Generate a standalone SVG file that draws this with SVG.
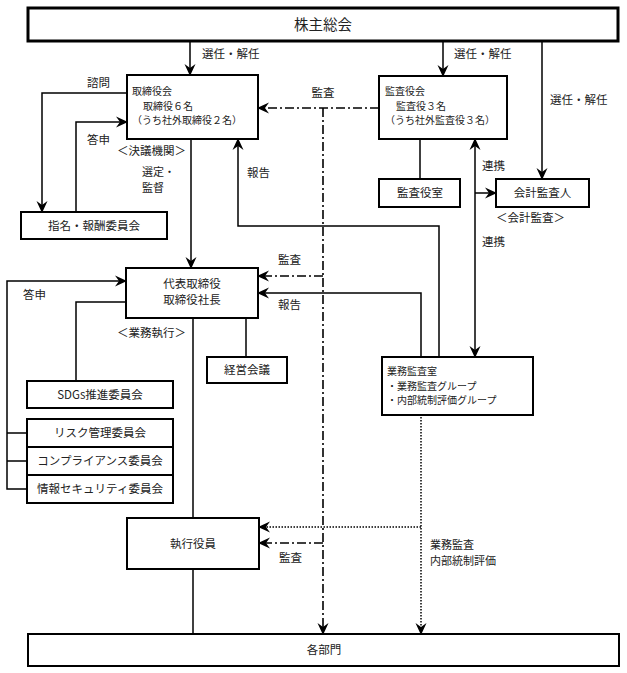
<svg xmlns="http://www.w3.org/2000/svg" width="627" height="673" viewBox="0 0 627 673">
<defs>
<style>
text{font-family:"Noto Sans CJK JP","Noto Sans",sans-serif;font-size:11.5px;fill:#222}
.b{fill:#fff;stroke:#000;stroke-width:2}
.bt{fill:#fff;stroke:#000;stroke-width:3}
.s{font-size:10px}
.m{font-size:11px}
.c{text-anchor:middle}
.l{fill:none;stroke:#000;stroke-width:1.5}
.dd{fill:none;stroke:#000;stroke-width:1.6;stroke-dasharray:9 3 2 3}
.dt{fill:none;stroke:#000;stroke-width:1.5;stroke-dasharray:1.5 1.5}
.a{marker-end:url(#ah)}
</style>
<marker id="ah" viewBox="0 0 12 12" refX="11" refY="6" markerWidth="12" markerHeight="12" markerUnits="userSpaceOnUse" orient="auto-start-reverse">
<path d="M0,0.5 L12,6 L0,11.5 L4,6 Z" fill="#000"/>
</marker>
</defs>
<rect width="627" height="673" fill="#fff"/>

<g id="connectors">
<path class="l a" d="M190,41 V75"/>
<path class="l a" d="M443,41 V76"/>
<path class="l a" d="M542,41 V179"/>
<path class="l a" d="M127,93 H42 V212"/>
<path class="l a" d="M76,212 V122 H127"/>
<path class="l a" d="M191,139 V268"/>
<path class="l a" d="M439,357 V226 H238 V139"/>
<path class="l" d="M420,139 V179"/>
<path class="l a" d="M475,139 V357" style="marker-start:url(#ah)"/>
<path class="l a" d="M475,193 H496"/>
<path class="dd a" d="M379,108 H258"/>
<path class="dd a" d="M323,108 V634"/>
<path class="dd a" d="M323,276 H258"/>
<path class="dd a" d="M323,543 H259"/>
<path class="l a" d="M421,357 V293 H258"/>
<path class="l" d="M193,318 V518"/>
<path class="l" d="M246,318 V357"/>
<path class="l" d="M126,302 H76 V381"/>
<path class="l a" d="M27,489 H7 V281 H126"/>
<path class="l" d="M7,433 H27 M7,461 H27"/>
<path class="l" d="M193,569 V634"/>
<path class="dt a" d="M421,414 V634"/>
<path class="dt a" d="M421,527 H259"/>
</g>

<g id="labels">
<text x="202" y="58">選任・解任</text>
<text x="454" y="58">選任・解任</text>
<text x="550" y="104">選任・解任</text>
<text x="87" y="87">諮問</text>
<text x="87" y="144">答申</text>
<text x="117" y="155">＜決議機関＞</text>
<text x="142" y="176" class="m">選定・</text>
<text x="142" y="192" class="m">監督</text>
<text x="247" y="177">報告</text>
<text x="323" y="97" class="c">監査</text>
<text x="482" y="170">連携</text>
<text x="482" y="246">連携</text>
<text x="496" y="222">＜会計監査＞</text>
<text x="278" y="264">監査</text>
<text x="278" y="309">報告</text>
<text x="23" y="299">答申</text>
<text x="117" y="337">＜業務執行＞</text>
<text x="279" y="562">監査</text>
<text x="430" y="549" class="m">業務監査</text>
<text x="430" y="565" class="m">内部統制評価</text>
</g>

<g id="soukai">
<rect class="bt" x="28" y="8" width="590" height="33"/>
<text x="323" y="30" class="c" style="font-size:14.5px">株主総会</text>
</g>
<g id="torishimariyakukai">
<rect class="b" x="127" y="75" width="131" height="64"/>
<text x="132" y="95" class="s">取締役会</text>
<text x="143" y="109.5" class="s">取締役６名</text>
<text x="132" y="124" class="s">（うち社外取締役２名）</text>
</g>
<g id="kansayakukai">
<rect class="b" x="379" y="76" width="128" height="63"/>
<text x="385" y="95" class="s">監査役会</text>
<text x="396" y="109.5" class="s">監査役３名</text>
<text x="385" y="124" class="s">（うち社外監査役３名）</text>
</g>
<g id="kansayakushitsu">
<rect class="b" x="379" y="179" width="81" height="28"/>
<text x="420" y="197" class="c">監査役室</text>
</g>
<g id="kaikeikansanin">
<rect class="b" x="496" y="179" width="93" height="28"/>
<text x="542.5" y="197" class="c">会計監査人</text>
</g>
<g id="shimei">
<rect class="b" x="21" y="212" width="146" height="27"/>
<text x="94" y="230" class="c">指名・報酬委員会</text>
</g>
<g id="daihyo">
<rect class="b" x="126" y="268" width="132" height="50"/>
<text x="192" y="288" class="c">代表取締役</text>
<text x="192" y="304" class="c">取締役社長</text>
</g>
<g id="keiei">
<rect class="b" x="207" y="357" width="80" height="26"/>
<text x="247" y="374" class="c">経営会議</text>
</g>
<g id="sdgs">
<rect class="b" x="27" y="381" width="146" height="27"/>
<text x="100" y="399" class="c">SDGs推進委員会</text>
</g>
<g id="risk">
<rect class="b" x="27" y="419" width="146" height="28"/>
<text x="100" y="437" class="c">リスク管理委員会</text>
</g>
<g id="compliance">
<rect class="b" x="27" y="447" width="146" height="28"/>
<text x="100" y="465" class="c">コンプライアンス委員会</text>
</g>
<g id="infosec">
<rect class="b" x="27" y="475" width="146" height="28"/>
<text x="100" y="493" class="c">情報セキュリティ委員会</text>
</g>
<g id="gyomukansashitsu">
<rect class="b" x="382" y="357" width="151" height="58"/>
<text x="387" y="375" class="s">業務監査室</text>
<text x="387" y="389.5" class="s">・業務監査グループ</text>
<text x="387" y="404" class="s">・内部統制評価グループ</text>
</g>
<g id="shikko">
<rect class="b" x="127" y="518" width="132" height="51"/>
<text x="193" y="548" class="c">執行役員</text>
</g>
<g id="kakubumon">
<rect class="b" x="28" y="634" width="591" height="32"/>
<text x="324" y="654" class="c">各部門</text>
</g>
</svg>
